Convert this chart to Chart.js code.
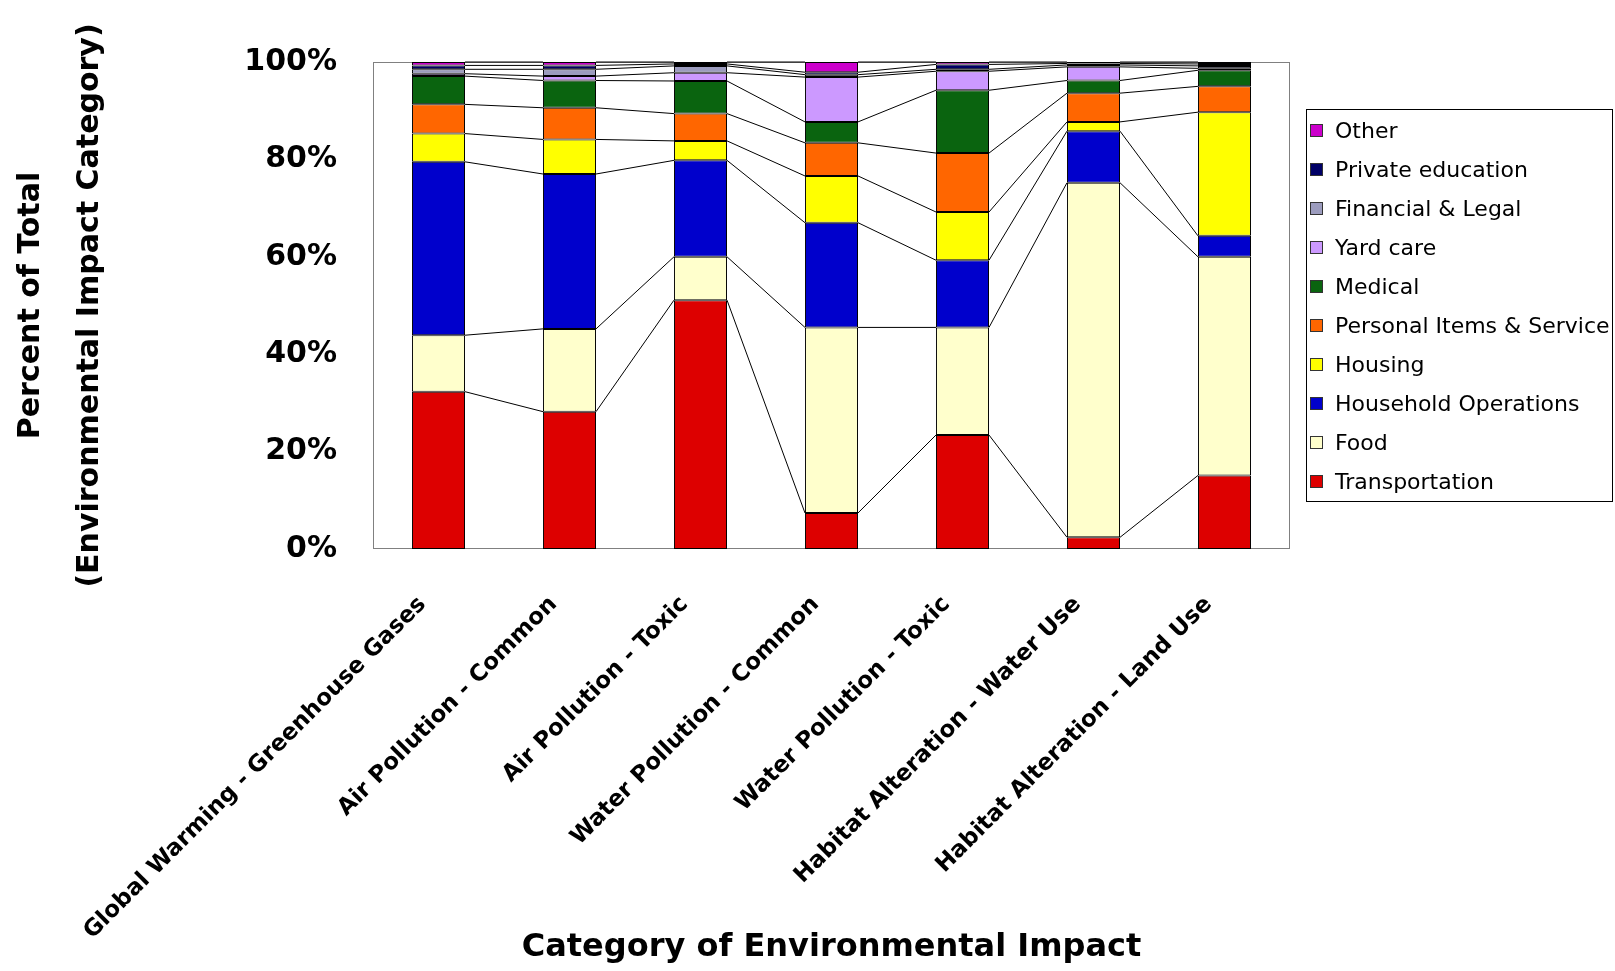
<!DOCTYPE html>
<html>
<head>
<meta charset="utf-8">
<script src="https://cdn.jsdelivr.net/npm/chart.js@4.4.1/dist/chart.umd.min.js"></script>
<style>
  html, body { margin: 0; padding: 0; background: #fff; }
  #wrap { position: relative; width: 1615px; height: 971px; }
  #legend {
    position: absolute; left: 1306px; top: 109px; width: 307px; height: 393px;
    border: 1px solid #000; box-sizing: border-box; padding-top: 1px;
    font-family: 'DejaVu Sans', sans-serif; font-size: 22px; color: #000;
  }
  .item { height: 39px; line-height: 39px; white-space: nowrap; }
  .sw {
    display: inline-block; width: 11px; height: 11px; border: 1px solid #333;
    margin: 0 12px 0 3px; vertical-align: middle; position: relative; top: -2px;
  }
</style>
</head>
<body>
<div id="wrap">
  <canvas id="chart" width="1615" height="971"></canvas>
  <div id="legend"></div>
</div>
<script>
// categories and series (percent of total per impact category)
const categories = [
  'Global Warming - Greenhouse Gases',
  'Air Pollution - Common',
  'Air Pollution - Toxic',
  'Water Pollution - Common',
  'Water Pollution - Toxic',
  'Habitat Alteration - Water Use',
  'Habitat Alteration - Land Use',
];
const transportation = [32.3, 28.2, 51.1, 7.4, 23.4, 2.4, 15.1];
const food = [11.6, 17.0, 8.9, 38.1, 22.1, 72.8, 44.9];
const householdOps = [35.6, 31.8, 19.8, 21.5, 13.8, 10.6, 4.3];
const housing = [5.8, 7.1, 4.0, 9.6, 9.9, 1.9, 25.4];
const personal = [6.0, 6.5, 5.6, 6.8, 12.1, 5.9, 5.3];
const medical = [5.8, 5.6, 6.7, 4.3, 12.9, 2.6, 3.3];
const yardCare = [0.5, 0.9, 1.7, 9.2, 3.9, 2.8, 0.4];
const financial = [0.9, 1.4, 1.4, 0.5, 0.4, 0.4, 0.5];
const privateEd = [0.8, 0.8, 0.4, 0.5, 1.0, 0.3, 0.4];
const other = [0.7, 0.7, 0.4, 2.1, 0.5, 0.3, 0.4];
const yTicks = [0, 20, 40, 60, 80, 100];

const series = [
  { label: 'Transportation', data: transportation, color: '#DD0000' },
  { label: 'Food', data: food, color: '#FFFFCC' },
  { label: 'Household Operations', data: householdOps, color: '#0000CC' },
  { label: 'Housing', data: housing, color: '#FFFF00' },
  { label: 'Personal Items & Service', data: personal, color: '#FF6600' },
  { label: 'Medical', data: medical, color: '#0A640F' },
  { label: 'Yard care', data: yardCare, color: '#CC99FF' },
  { label: 'Financial & Legal', data: financial, color: '#9C9CBE' },
  { label: 'Private education', data: privateEd, color: '#000066' },
  { label: 'Other', data: other, color: '#CC00CC' },
];

const FONT = "'DejaVu Sans', sans-serif";

// plot frame + Excel style series lines between the bars
const seriesLines = {
  id: 'seriesLines',
  beforeDatasetsDraw(chart) {
    const { ctx, chartArea: a } = chart;
    ctx.save();
    ctx.strokeStyle = '#808080';
    ctx.lineWidth = 1;
    ctx.strokeRect(a.left + 0.5, a.top + 0.5, a.right - a.left - 1, a.bottom - a.top - 1);
    ctx.restore();
  },
  afterDatasetsDraw(chart) {
    const ctx = chart.ctx;
    ctx.save();
    ctx.strokeStyle = '#000';
    ctx.lineWidth = 1;
    chart.data.datasets.forEach((ds, i) => {
      const bars = chart.getDatasetMeta(i).data;
      ctx.beginPath();
      for (let j = 0; j < bars.length - 1; j++) {
        const a = bars[j], b = bars[j + 1];
        ctx.moveTo(a.x + a.width / 2, a.y);
        ctx.lineTo(b.x - b.width / 2, b.y);
      }
      ctx.stroke();
    });
    ctx.restore();
  }
};

new Chart(document.getElementById('chart'), {
  type: 'bar',
  data: {
    labels: categories,
    datasets: series.map(s => ({
      label: s.label,
      data: s.data,
      backgroundColor: s.color,
      borderColor: '#000',
      borderWidth: 1,
      borderSkipped: false,
      barPercentage: 0.405,
      categoryPercentage: 1,
    })),
  },
  options: {
    responsive: false,
    animation: false,
    devicePixelRatio: 1,
    layout: { padding: { top: 62, right: 325, bottom: 0, left: 0 } },
    plugins: { legend: { display: false }, tooltip: { enabled: false } },
    scales: {
      x: {
        stacked: true,
        grid: { display: false, drawTicks: false },
        border: { display: false },
        ticks: {
          color: '#000', font: { family: FONT, size: 23, weight: 'bold' },
          minRotation: 45, maxRotation: 45, padding: 42, labelOffset: -16, autoSkip: false,
        },
        title: {
          display: true, text: 'Category of Environmental Impact', color: '#000',
          font: { family: FONT, size: 32, weight: 'bold' }, padding: { top: 0, bottom: 4 },
        },
        afterFit(scale) { scale.height = 422; },
      },
      y: {
        stacked: true, min: 0, max: 100,
        grid: { display: false, drawTicks: false },
        border: { display: false },
        afterBuildTicks(scale) { scale.ticks = yTicks.map(v => ({ value: v })); },
        ticks: {
          color: '#000', padding: 36,
          font: { family: FONT, size: 30, weight: 'bold' },
          callback: v => v + '%',
        },
        title: {
          display: true, text: ['Percent of Total', '(Environmental Impact Category)'], color: '#000',
          font: { family: FONT, size: 30, weight: 'bold', lineHeight: 1.96 }, padding: { top: 2, bottom: 0 },
        },
        afterFit(scale) { scale.width = 373; },
      },
    },
  },
  plugins: [seriesLines],
});

// legend, top entry first like the original
const legend = document.getElementById('legend');
series.slice().reverse().forEach(s => {
  const row = document.createElement('div');
  row.className = 'item';
  const sw = document.createElement('span');
  sw.className = 'sw';
  sw.style.background = s.color;
  row.appendChild(sw);
  row.appendChild(document.createTextNode(s.label));
  legend.appendChild(row);
});
</script>
</body>
</html>
